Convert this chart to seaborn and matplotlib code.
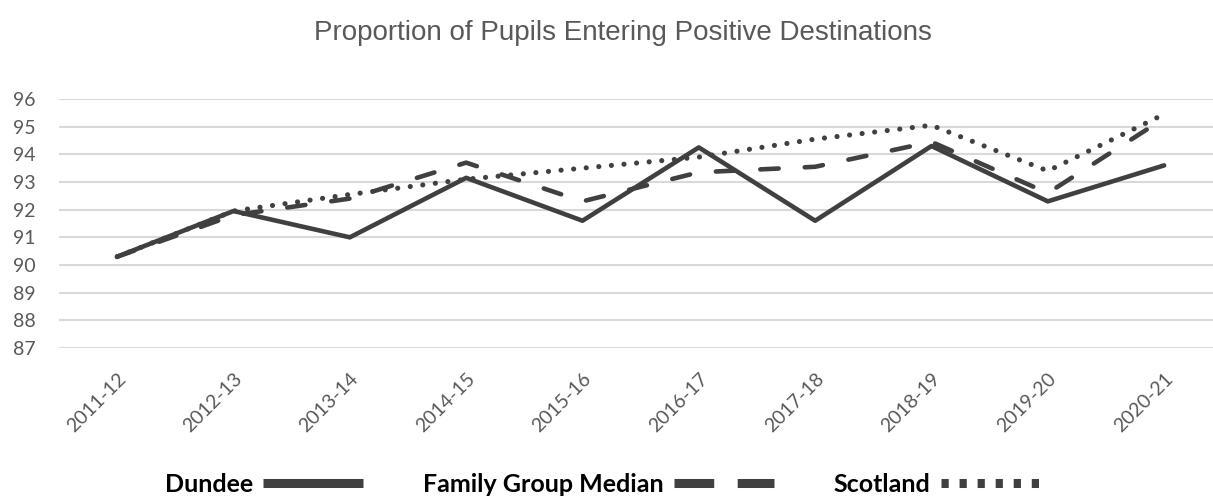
import pandas as pd
import matplotlib.pyplot as plt
import seaborn as sns

# Data
years = ["2011-12", "2012-13", "2013-14", "2014-15", "2015-16",
         "2016-17", "2017-18", "2018-19", "2019-20", "2020-21"]
dundee = [90.3, 91.95, 91.0, 93.15, 91.6, 94.25, 91.6, 94.3, 92.3, 93.6]
family_median = [90.3, 91.8, 92.4, 93.7, 92.3, 93.35, 93.55, 94.45, 92.6, 95.3]
scotland = [90.3, 91.95, 92.55, 93.1, 93.5, 93.9, 94.55, 95.05, 93.4, 95.45]
yticks = [87, 88, 89, 90, 91, 92, 93, 94, 95, 96]

sns.set_theme(style="white")
plt.rcParams["font.family"] = ["Lato", "DejaVu Sans"]

line_col = "#404040"
grey_txt = "#595959"

fig = plt.figure(figsize=(12.13, 4.97), dpi=100)
ax = fig.add_axes([59 / 1213, 149 / 497, 1 - 59 / 1213, 249 / 497])

df = pd.DataFrame({"year": years, "pos": range(len(years)),
                   "Dundee": dundee,
                   "Family Group Median": family_median,
                   "Scotland": scotland})

styles = {
    "Dundee": ((0, ()), 3.3),
    "Family Group Median": ((0, (4.0, 5.7)), 3.3),
    "Scotland": ((0, (0.01, 2.45)), 3.7),
}

for name, (ls, lw) in styles.items():
    sns.lineplot(data=df, x="pos", y=name, ax=ax, color=line_col,
                 linewidth=lw, linestyle=ls, label=name)

for ln in ax.get_lines():
    ln.set_dash_capstyle("round")
    ln.set_solid_capstyle("round")
    ln.set_solid_joinstyle("miter")

ax.set_xlim(-0.5, 9.42)
ax.set_ylim(87, 96)
ax.set_yticks(yticks)
ax.set_yticklabels([str(v) for v in yticks], fontsize=14, color=grey_txt)
ax.set_xticks(range(len(years)))
ax.set_xticklabels(years, fontsize=14, color=grey_txt, rotation=45,
                   ha="right", rotation_mode="anchor")
ax.tick_params(axis="y", length=0, pad=17)
ax.tick_params(axis="x", length=0, pad=16)
ax.set_xlabel("")
ax.set_ylabel("")
ax.grid(axis="y", color="#d9d9d9", linewidth=1.5)
ax.grid(axis="x", visible=False)
ax.set_axisbelow(True)
for sp in ax.spines.values():
    sp.set_visible(False)

fig.text(623 / 1213, 1 - 33 / 497, "Proportion of Pupils Entering Positive Destinations",
         ha="center", va="center", fontsize=20, color=grey_txt,
         family=["Liberation Sans", "DejaVu Sans"])

handles, labels = ax.get_legend_handles_labels()
ax.get_legend().remove()
leg = fig.legend(handles, labels, loc="center", bbox_to_anchor=(0.497, 1 - 484 / 497),
                 ncol=3, frameon=False, markerfirst=False, handlelength=4.0,
                 handletextpad=0.4, columnspacing=2.4, borderpad=0,
                 prop={"family": ["Lato", "DejaVu Sans"], "weight": "bold", "size": 18})
leg_dash = [(0, ()), (0, (4.4, 2.6)), (0, (0.8, 1.2))]
for h, ls in zip(leg.get_lines(), leg_dash):
    h.set_linewidth(6.5)
    h.set_linestyle(ls)
    h.set_dash_capstyle("butt")
    h.set_solid_capstyle("butt")
for t in leg.get_texts():
    t.set_color("black")

plt.savefig("out.png", dpi=100)
